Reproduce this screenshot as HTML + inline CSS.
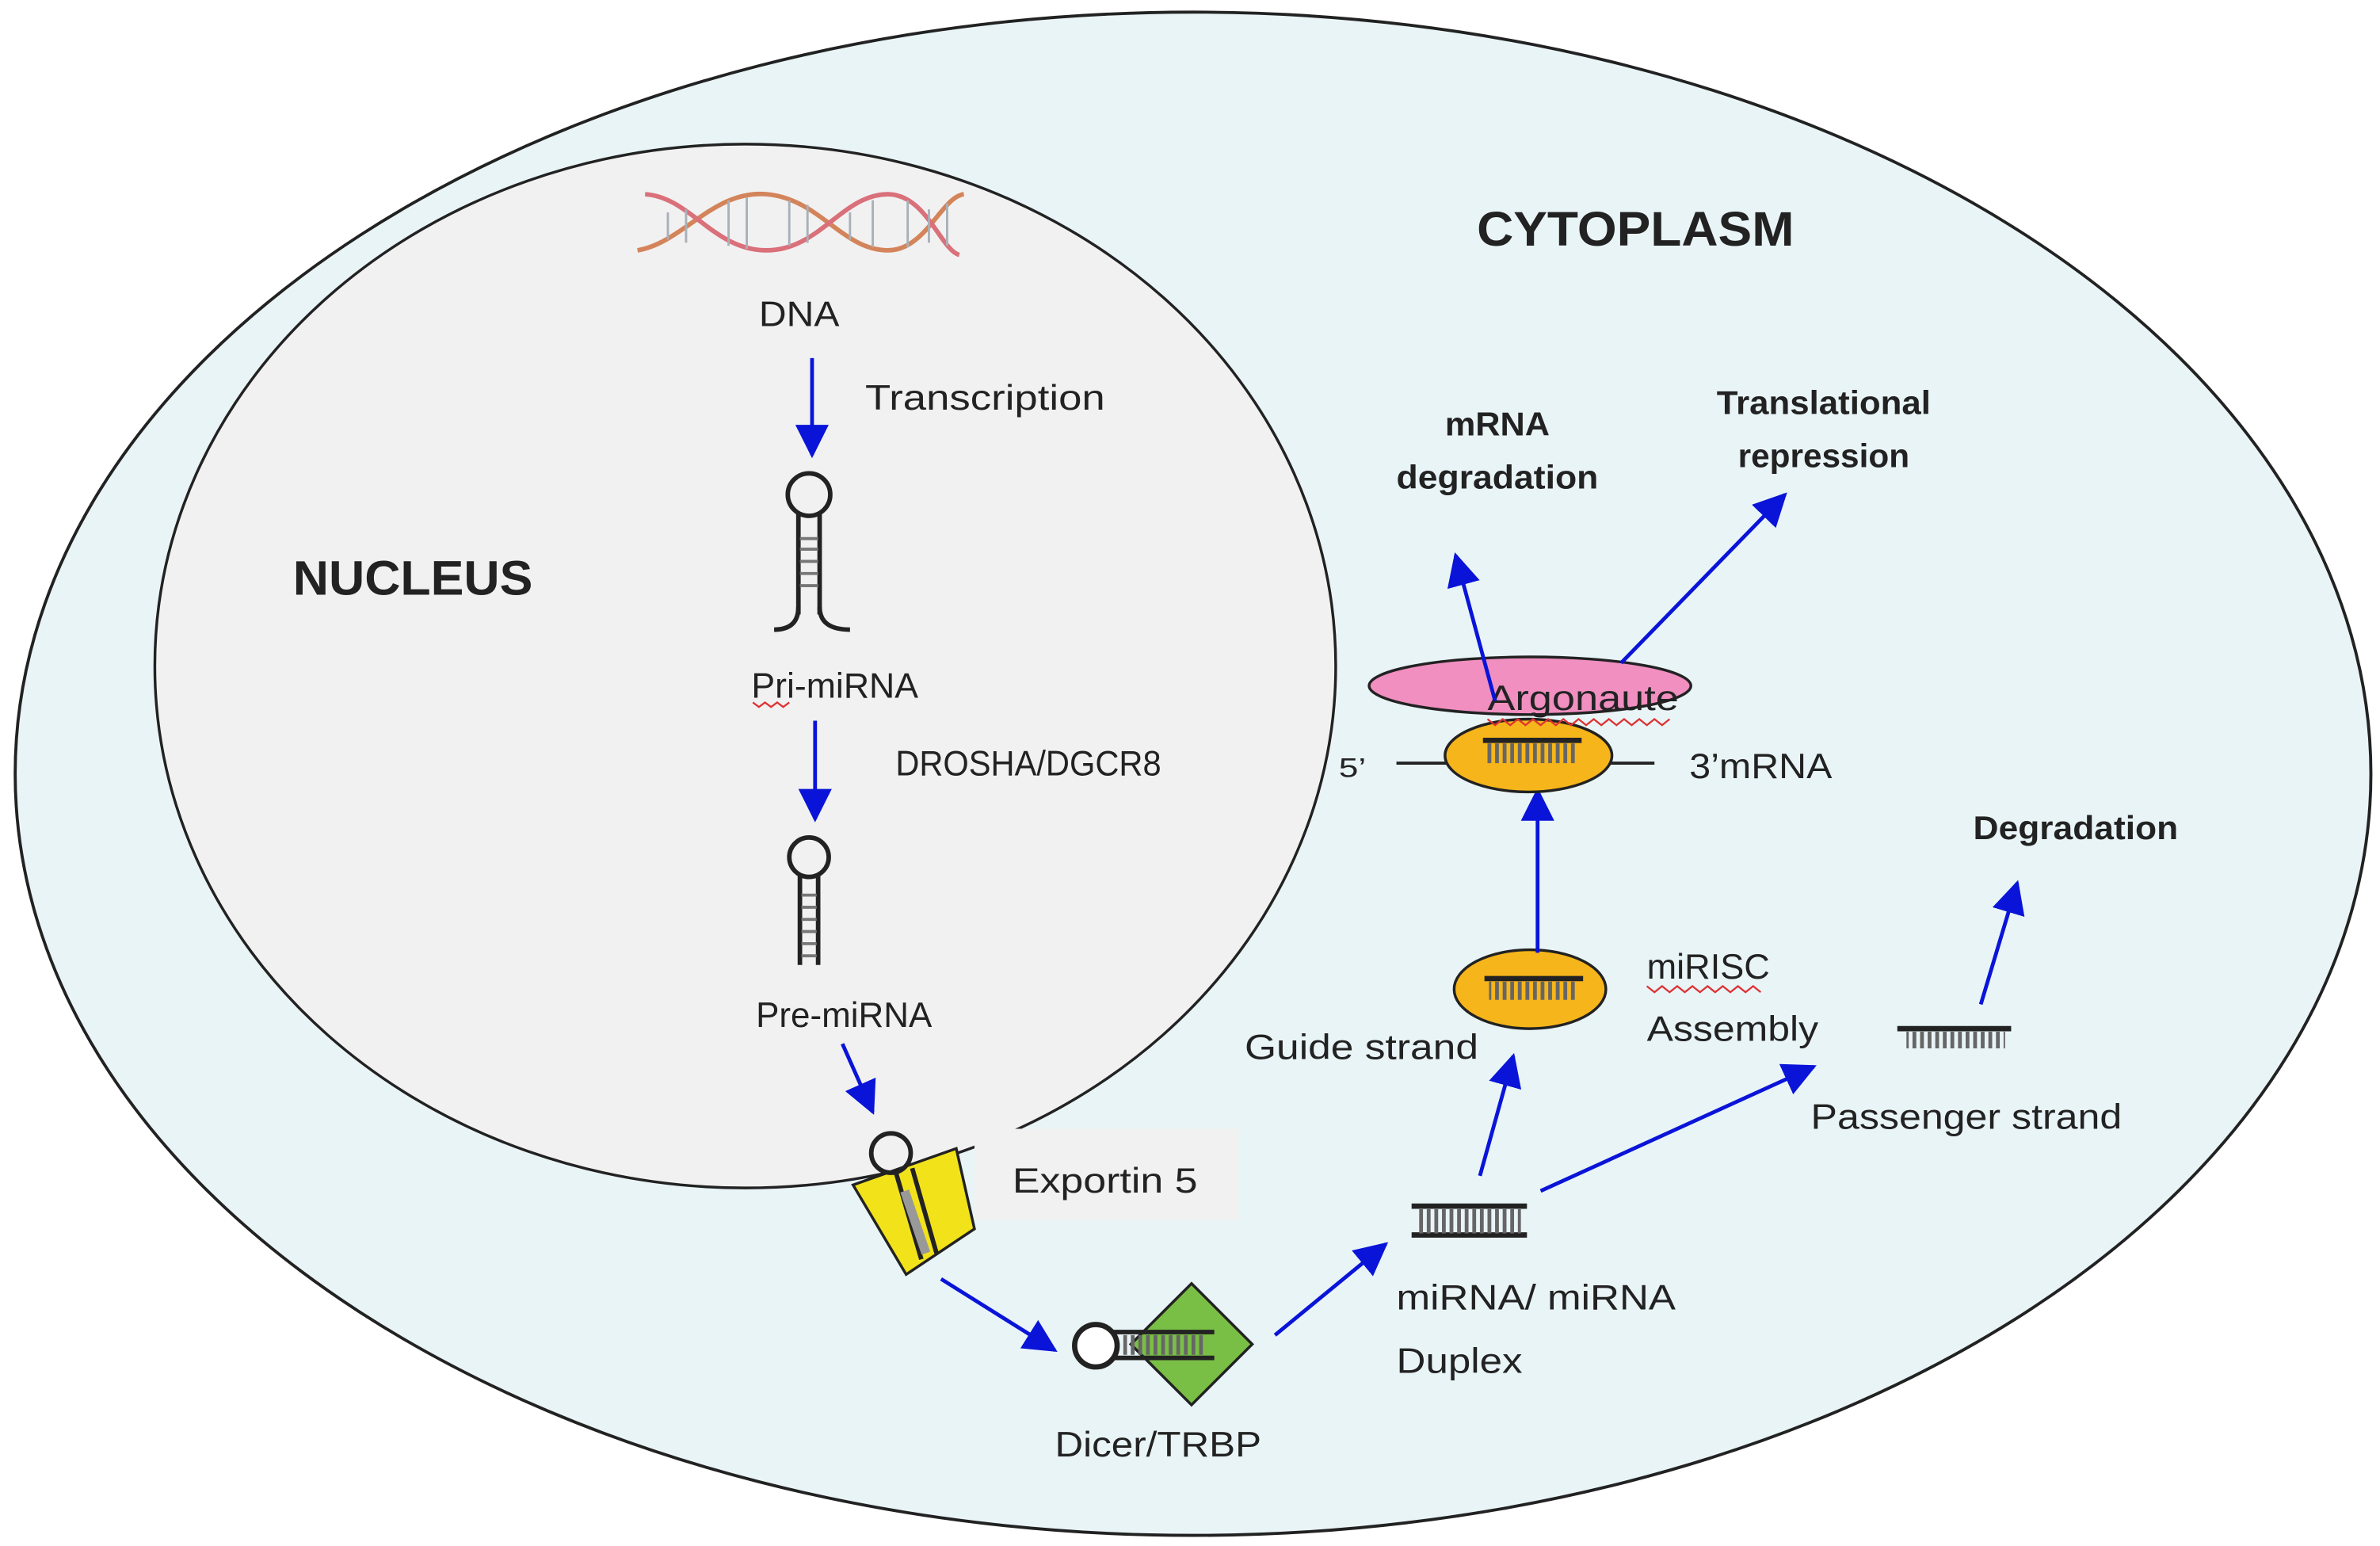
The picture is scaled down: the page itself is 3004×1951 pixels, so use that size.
<!DOCTYPE html>
<html><head><meta charset="utf-8"><style>
html,body{margin:0;padding:0;background:#fff;}
svg{display:block;}
text{font-family:"Liberation Sans",sans-serif;fill:#222;}
</style></head><body>
<svg width="3004" height="1951" viewBox="0 0 1568 1019" preserveAspectRatio="none" xmlns="http://www.w3.org/2000/svg">
<defs>
<marker id="ah" markerUnits="userSpaceOnUse" markerWidth="24" markerHeight="22" refX="20" refY="11" orient="auto">
<path d="M0,0 L22,11 L0,22 Z" fill="#0a14d8"/>
</marker>
<pattern id="ticks" width="5" height="20" patternUnits="userSpaceOnUse">
<rect x="0" y="0" width="2.5" height="20" fill="#666"/>
</pattern>
</defs>
<rect width="1568" height="1019" fill="#fff"/>
<ellipse cx="786" cy="510" rx="776" ry="502" fill="#e9f4f7" stroke="#222" stroke-width="2"/>
<ellipse cx="491" cy="439" rx="389" ry="344" fill="#f1f1f1" stroke="#222" stroke-width="1.8"/>
<rect x="642" y="744" width="174" height="60" fill="#f1f1f1"/>

<g stroke-width="3" fill="none">
<path d="M420,165 C450,160 470,125 505,128 C540,131 555,165 585,165 C610,165 620,130 635,128" stroke="#d4845a"/>
<path d="M425,128 C455,130 470,165 505,165 C540,165 555,128 585,128 C610,128 620,165 632,168" stroke="#d9707a"/>
<g stroke="#a9b0b8" stroke-width="1.5">
<line x1="440" y1="140" x2="440" y2="158"/><line x1="452" y1="138" x2="452" y2="160"/><line x1="480" y1="132" x2="480" y2="162"/><line x1="492" y1="130" x2="492" y2="164"/><line x1="520" y1="132" x2="520" y2="162"/><line x1="532" y1="135" x2="532" y2="160"/><line x1="560" y1="140" x2="560" y2="158"/><line x1="575" y1="132" x2="575" y2="163"/><line x1="598" y1="132" x2="598" y2="163"/><line x1="612" y1="138" x2="612" y2="160"/><line x1="624" y1="134" x2="624" y2="162"/>
</g>
</g>
<g font-size="23">
<text x="500" y="215" textLength="53" lengthAdjust="spacingAndGlyphs">DNA</text>
<text x="570" y="270" textLength="158" lengthAdjust="spacingAndGlyphs">Transcription</text>
<text x="495" y="460" textLength="110" lengthAdjust="spacingAndGlyphs">Pri-miRNA</text>
<text x="590" y="511" textLength="175" lengthAdjust="spacingAndGlyphs">DROSHA/DGCR8</text>
<text x="498" y="677" textLength="116" lengthAdjust="spacingAndGlyphs">Pre-miRNA</text>
<text x="667" y="786" textLength="122" lengthAdjust="spacingAndGlyphs">Exportin 5</text>
<text x="695" y="960" textLength="136" lengthAdjust="spacingAndGlyphs">Dicer/TRBP</text>
<text x="920" y="863" textLength="184" lengthAdjust="spacingAndGlyphs">miRNA/ miRNA</text>
<text x="920" y="905" textLength="83" lengthAdjust="spacingAndGlyphs">Duplex</text>
<text x="820" y="698" textLength="154" lengthAdjust="spacingAndGlyphs">Guide strand</text>
<text x="1085" y="645" textLength="81" lengthAdjust="spacingAndGlyphs">miRISC</text>
<text x="1085" y="686" textLength="113" lengthAdjust="spacingAndGlyphs">Assembly</text>
<text x="1193" y="744" textLength="205" lengthAdjust="spacingAndGlyphs">Passenger strand</text>
<text x="1113" y="513" textLength="94" lengthAdjust="spacingAndGlyphs">3’mRNA</text>
</g>
<line x1="535" y1="236" x2="535" y2="300" stroke="#0a14d8" stroke-width="2.5" marker-end="url(#ah)"/>

<g stroke="#222" stroke-width="3" fill="none">
<circle cx="533" cy="326" r="14"/>
<line x1="526" y1="339" x2="526" y2="405"/><line x1="540" y1="339" x2="540" y2="405"/>
<path d="M526,400 Q526,415 510,415"/><path d="M540,400 Q540,415 560,415"/>
</g>
<g stroke="#777" stroke-width="2"><line x1="527" y1="355" x2="539" y2="355"/><line x1="527" y1="362" x2="539" y2="362"/><line x1="527" y1="370" x2="539" y2="370"/><line x1="527" y1="378" x2="539" y2="378"/><line x1="527" y1="386" x2="539" y2="386"/></g>
<path d="M496,463 l4,3 4,-3 4,3 4,-3 4,3 4,-3" stroke="#d33" fill="none" stroke-width="1.2"/>
<line x1="537" y1="475" x2="537" y2="540" stroke="#0a14d8" stroke-width="2.5" marker-end="url(#ah)"/>

<g stroke="#222" stroke-width="3" fill="none">
<circle cx="533" cy="565" r="13"/>
<line x1="527" y1="577" x2="527" y2="636"/><line x1="539" y1="577" x2="539" y2="636"/>
</g>
<g stroke="#777" stroke-width="2"><line x1="528" y1="590" x2="538" y2="590"/><line x1="528" y1="598" x2="538" y2="598"/><line x1="528" y1="606" x2="538" y2="606"/><line x1="528" y1="614" x2="538" y2="614"/><line x1="528" y1="622" x2="538" y2="622"/><line x1="528" y1="630" x2="538" y2="630"/></g>
<line x1="555" y1="688" x2="575" y2="733" stroke="#0a14d8" stroke-width="2.5" marker-end="url(#ah)"/>

<path d="M562,781 L630,757 L642,810 L597,840 Z" fill="#f2e21a" stroke="#222" stroke-width="1.8"/>
<g stroke="#222" stroke-width="3" fill="none">
<circle cx="587" cy="760" r="13"/>
<line x1="590" y1="772" x2="607" y2="830"/><line x1="601" y1="770" x2="617" y2="826"/>
</g>
<line x1="596" y1="785" x2="610" y2="826" stroke="#999" stroke-width="6"/>
<line x1="620" y1="843" x2="695" y2="890" stroke="#0a14d8" stroke-width="2.5" marker-end="url(#ah)"/>

<path d="M785,846 L825,886 L785,926 L745,886 Z" fill="#79bf45" stroke="#222" stroke-width="1.8"/>
<circle cx="722" cy="887" r="14" fill="#fff" stroke="#222" stroke-width="3.5"/>
<line x1="733" y1="878" x2="800" y2="878" stroke="#222" stroke-width="3"/>
<line x1="733" y1="895" x2="800" y2="895" stroke="#222" stroke-width="3"/>
<rect x="740" y="880" width="55" height="13" fill="url(#ticks)"/>
<line x1="840" y1="880" x2="913" y2="820" stroke="#0a14d8" stroke-width="2.5" marker-end="url(#ah)"/>

<line x1="930" y1="795" x2="1006" y2="795" stroke="#222" stroke-width="3.5"/>
<line x1="930" y1="814" x2="1006" y2="814" stroke="#222" stroke-width="3.5"/>
<rect x="934" y="797" width="68" height="16" fill="url(#ticks)"/>
<line x1="975" y1="775" x2="997" y2="696" stroke="#0a14d8" stroke-width="2.5" marker-end="url(#ah)"/>
<line x1="1015" y1="785" x2="1195" y2="703" stroke="#0a14d8" stroke-width="2.5" marker-end="url(#ah)"/>

<ellipse cx="1008" cy="652" rx="50" ry="26" fill="#f6b51a" stroke="#222" stroke-width="1.8"/>
<line x1="978" y1="645" x2="1043" y2="645" stroke="#222" stroke-width="3.5"/>
<rect x="981" y="647" width="58" height="12" fill="url(#ticks)"/>
<path d="M1085,650 l5,4 5,-4 5,4 5,-4 5,4 5,-4 5,4 5,-4 5,4 5,-4 5,4 5,-4 5,4 5,-4 5,4" stroke="#d33" fill="none" stroke-width="1.2"/>
<line x1="1013" y1="628" x2="1013" y2="521" stroke="#0a14d8" stroke-width="2.5" marker-end="url(#ah)"/>

<line x1="1250" y1="678" x2="1325" y2="678" stroke="#222" stroke-width="3.5"/>
<rect x="1256" y="680" width="65" height="11" fill="url(#ticks)"/>
<line x1="1305" y1="662" x2="1329" y2="582" stroke="#0a14d8" stroke-width="2.5" marker-end="url(#ah)"/>
<text x="1300" y="553" font-size="22" font-weight="bold" textLength="135" lengthAdjust="spacingAndGlyphs">Degradation</text>

<ellipse cx="1008" cy="452" rx="106" ry="19" fill="#f08fc0" stroke="#222" stroke-width="1.8"/>
<line x1="920" y1="503" x2="1090" y2="503" stroke="#222" stroke-width="2"/>
<ellipse cx="1007" cy="498" rx="55" ry="24" fill="#f6b51a" stroke="#222" stroke-width="1.8"/>
<line x1="977" y1="488" x2="1042" y2="488" stroke="#222" stroke-width="3.5"/>
<rect x="980" y="490" width="58" height="13" fill="url(#ticks)"/>
<text x="980" y="468" font-size="23" textLength="126" lengthAdjust="spacingAndGlyphs">Argonaute</text>
<path d="M980,474 l5,4 5,-4 5,4 5,-4 5,4 5,-4 5,4 5,-4 5,4 5,-4 5,4 5,-4 5,4 5,-4 5,4 5,-4 5,4 5,-4 5,4 5,-4 5,4 5,-4 5,4 5,-4" stroke="#d33" fill="none" stroke-width="1.2"/>
<text x="882" y="512" font-size="18" textLength="18" lengthAdjust="spacingAndGlyphs">5’</text>
<line x1="985" y1="462" x2="959" y2="366" stroke="#0a14d8" stroke-width="2.5" marker-end="url(#ah)"/>
<line x1="1068" y1="437" x2="1176" y2="326" stroke="#0a14d8" stroke-width="2.5" marker-end="url(#ah)"/>
<text x="952" y="287" font-size="22" font-weight="bold" textLength="69" lengthAdjust="spacingAndGlyphs">mRNA</text>
<text x="920" y="322" font-size="22" font-weight="bold" textLength="133" lengthAdjust="spacingAndGlyphs">degradation</text>
<text x="1131" y="273" font-size="22" font-weight="bold" textLength="141" lengthAdjust="spacingAndGlyphs">Translational</text>
<text x="1145" y="308" font-size="22" font-weight="bold" textLength="113" lengthAdjust="spacingAndGlyphs">repression</text>

<text x="973" y="162" font-size="32" font-weight="bold" textLength="209" lengthAdjust="spacingAndGlyphs">CYTOPLASM</text>
<text x="193" y="392" font-size="32" font-weight="bold" textLength="158" lengthAdjust="spacingAndGlyphs">NUCLEUS</text>
</svg>
</body></html>
